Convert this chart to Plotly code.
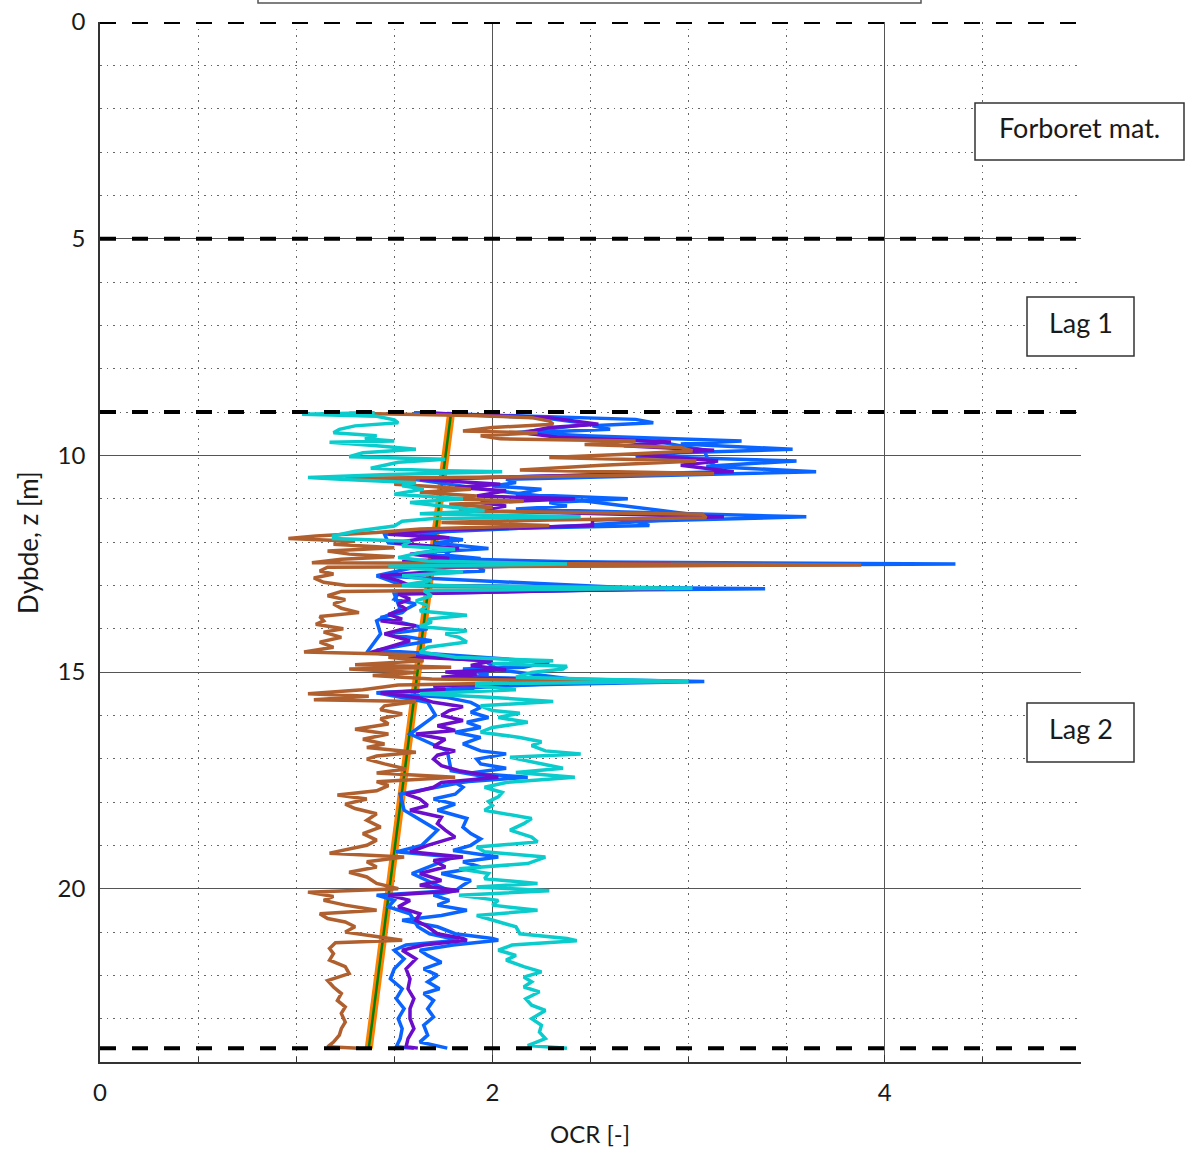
import plotly.graph_objects as go

# ---------------- data ----------------
cyan_z = [9.02, 9.05, 9.10, 9.18, 9.25, 9.32, 9.40, 9.48, 9.55, 9.62, 9.67, 9.70, 9.78, 9.86, 9.94,
          10.03, 10.09, 10.16, 10.30, 10.35, 10.38, 10.44, 10.51, 10.56, 10.63, 10.70, 10.78, 10.90,
          11.00, 11.09, 11.17, 11.28, 11.35, 11.42, 11.46, 11.52, 11.63, 11.75, 11.86, 11.92, 11.98,
          12.09, 12.17, 12.25, 12.36, 12.44, 12.51, 12.56, 12.70, 12.78, 12.89, 13.00, 13.07, 13.12,
          13.24, 13.36, 13.47, 13.59, 13.69, 13.78, 13.85, 13.95, 14.05, 14.12, 14.20, 14.31, 14.43,
          14.54, 14.66, 14.74, 14.81, 14.87, 14.93, 15.01, 15.12, 15.22, 15.27, 15.32, 15.41, 15.50,
          15.58, 15.68, 15.78, 15.89, 15.95, 16.05, 16.16, 16.28, 16.39, 16.51, 16.61, 16.70, 16.82,
          16.89, 16.97, 17.08, 17.22, 17.32, 17.43, 17.55, 17.66, 17.78, 17.88, 17.99, 18.08, 18.19,
          18.38, 18.50, 18.65, 18.81, 18.92, 19.04, 19.15, 19.27, 19.42, 19.54, 19.65, 19.77, 19.88,
          19.96, 20.05, 20.15, 20.27, 20.38, 20.50, 20.62, 20.73, 20.88, 21.04, 21.15, 21.20, 21.30,
          21.42, 21.54, 21.65, 21.80, 21.92, 22.04, 22.15, 22.27, 22.38, 22.54, 22.69, 22.81, 23.00,
          23.15, 23.31, 23.46, 23.62, 23.68]
cyan_v = [1.40, 1.03, 1.41, 1.50, 1.52, 1.30, 1.22, 1.19, 1.41, 1.35, 1.50, 1.17, 1.41, 1.61, 1.34,
          1.27, 1.76, 1.52, 1.38, 1.69, 2.05, 1.47, 1.06, 1.25, 1.61, 1.54, 1.65, 1.50,
          1.85, 1.58, 1.74, 1.96, 1.63, 2.45, 1.70, 1.54, 1.50, 1.30, 1.19, 1.19, 1.58,
          1.54, 1.81, 1.63, 1.52, 1.67, 2.38, 1.47, 1.85, 1.54, 1.69, 1.54, 3.02, 1.65,
          1.69, 1.61, 1.67, 1.63, 1.87, 1.67, 1.69, 1.63, 1.87, 1.76, 1.83, 1.87, 1.67,
          1.63, 1.81, 2.31, 2.00, 2.38, 2.36, 2.20, 2.12, 3.00, 1.92, 1.92, 2.12, 1.63,
          1.98, 2.31, 1.94, 2.00, 2.14, 2.03, 2.18, 2.00, 1.94, 2.14, 2.25, 2.20, 2.27,
          2.45, 2.09, 2.20, 2.36, 2.12, 2.42, 2.07, 1.96, 2.05, 2.03, 1.98, 2.00, 1.96,
          2.20, 2.16, 2.09, 2.20, 2.23, 1.92, 1.96, 2.27, 2.18, 1.83, 1.98, 1.96, 2.23,
          1.92, 2.29, 1.83, 2.03, 2.00, 2.23, 1.92, 2.00, 2.12, 2.14, 2.38, 2.43, 2.10,
          2.03, 2.12, 2.07, 2.16, 2.25, 2.16, 2.20, 2.16, 2.24, 2.17, 2.20, 2.27, 2.20,
          2.25, 2.24, 2.27, 2.18, 2.38]

blueB_z = [9.02, 9.09, 9.17, 9.25, 9.32, 9.40, 9.48, 9.55, 9.67, 9.74, 9.86, 9.94, 10.02, 10.13,
           10.25, 10.38, 10.48, 10.55, 10.63, 10.71, 10.78, 10.90, 11.00, 11.09, 11.17, 11.24,
           11.42, 11.52, 11.62, 11.71, 11.82, 11.90, 11.95, 12.02, 12.15, 12.25, 12.38, 12.44,
           12.51, 12.56, 12.67, 12.78, 12.89, 13.00, 13.08, 13.15, 13.20, 13.32, 13.43, 13.55,
           13.63, 13.74, 13.82, 14.00, 14.12, 14.28, 14.39, 14.50, 14.58, 14.67, 14.77, 14.89,
           14.93, 15.05, 15.12, 15.22, 15.32, 15.41, 15.48, 15.58, 15.70, 15.82, 15.93, 16.05,
           16.16, 16.28, 16.39, 16.51, 16.66, 16.82, 16.89, 17.01, 17.12, 17.22, 17.33, 17.43,
           17.55, 17.66, 17.82, 17.93, 18.05, 18.19, 18.38, 18.58, 18.73, 18.85, 19.00, 19.12,
           19.27, 19.38, 19.50, 19.65, 19.81, 19.92, 20.05, 20.15, 20.27, 20.38, 20.50, 20.62,
           20.73, 20.88, 21.04, 21.15, 21.19, 21.30, 21.42, 21.54, 21.70, 21.85, 22.00, 22.15,
           22.31, 22.42, 22.58, 22.77, 22.96, 23.15, 23.38, 23.54, 23.68]
blueB_v = [1.61, 2.18, 2.73, 2.82, 2.51, 2.60, 2.18, 2.47, 3.27, 2.96, 3.53, 2.96, 2.73, 3.55,
           3.09, 3.65, 2.73, 2.07, 2.12, 2.00, 2.25, 2.12, 2.69, 2.29, 2.38, 2.12,
           3.60, 2.73, 2.80, 1.85, 1.63, 1.76, 1.85, 1.70, 1.98, 1.63, 1.94, 1.67,
           4.36, 1.92, 1.96, 1.41, 1.48, 1.54, 3.39, 1.52, 1.52, 1.50, 1.61, 1.56,
           1.54, 1.43, 1.50, 1.67, 1.47, 1.69, 1.54, 1.41, 1.69, 1.98, 2.29, 2.16,
           1.85, 1.98, 1.89, 3.08, 1.92, 1.89, 1.41, 1.76, 1.89, 1.94, 1.89, 1.98,
           1.87, 1.94, 1.81, 1.94, 1.85, 1.94, 2.07, 1.92, 1.94, 2.07, 1.89, 2.18,
           1.81, 1.85, 1.81, 1.70, 1.81, 1.72, 1.87, 1.85, 1.89, 1.94, 1.89, 1.80,
           2.03, 1.85, 1.94, 1.74, 1.89, 1.85, 1.81, 1.70, 1.78, 1.72, 1.87, 1.74,
           1.54, 1.72, 1.81, 2.00, 2.03, 1.80, 1.63, 1.67, 1.74, 1.65, 1.72, 1.67,
           1.73, 1.65, 1.70, 1.67, 1.70, 1.65, 1.67, 1.63, 1.77]

blueA_z = [9.02, 9.13, 9.28, 9.48, 9.69, 9.88, 10.13, 10.38, 10.55, 10.82, 11.00, 11.42, 11.62,
           11.82, 12.02, 12.15, 12.38, 12.51, 12.59, 12.78, 13.08, 13.20, 13.55, 13.82, 14.12,
           14.55, 14.74, 14.95, 15.22, 15.48, 15.70, 16.00, 16.43, 16.82, 17.28, 17.43, 17.82,
           18.19, 18.65, 19.00, 19.15, 19.27, 19.65, 20.05, 20.15, 20.27, 20.42, 20.58, 20.88,
           21.04, 21.19, 21.30, 21.42, 21.62, 21.85, 22.08, 22.31, 22.54, 22.77, 23.00, 23.23,
           23.46, 23.65, 23.68]
blueA_v = [1.60, 2.25, 2.50, 2.12, 2.85, 3.08, 3.10, 3.18, 1.60, 2.02, 2.38, 3.12, 2.45,
           1.45, 1.47, 1.80, 1.74, 2.85, 1.60, 1.41, 2.80, 1.50, 1.53, 1.41, 1.43,
           1.36, 1.96, 2.03, 2.50, 1.41, 1.67, 1.71, 1.58, 1.77, 1.79, 1.98, 1.53,
           1.55, 1.72, 1.64, 1.51, 1.80, 1.59, 1.78, 1.41, 1.50, 1.47, 1.58, 1.62,
           1.68, 1.83, 1.56, 1.50, 1.55, 1.50, 1.48, 1.54, 1.51, 1.55, 1.52, 1.54,
           1.53, 1.51, 1.60]

purple_z = [9.02, 9.13, 9.28, 9.36, 9.48, 9.58, 9.69, 9.78, 9.88, 9.98, 10.13, 10.23, 10.38, 10.46,
            10.55, 10.67, 10.74, 10.82, 10.94, 11.00, 11.09, 11.17, 11.28, 11.42, 11.49, 11.62,
            11.72, 11.82, 11.90, 11.93, 12.02, 12.15, 12.28, 12.38, 12.45, 12.51, 12.59, 12.67,
            12.78, 12.89, 13.00, 13.08, 13.20, 13.32, 13.43, 13.55, 13.67, 13.78, 13.82, 13.93,
            14.12, 14.28, 14.43, 14.55, 14.66, 14.74, 14.85, 14.95, 15.00, 15.05, 15.12, 15.22,
            15.32, 15.41, 15.48, 15.60, 15.70, 15.80, 15.89, 16.00, 16.12, 16.24, 16.35, 16.43,
            16.55, 16.72, 16.82, 16.92, 17.01, 17.16, 17.28, 17.43, 17.55, 17.66, 17.82, 17.93,
            18.08, 18.19, 18.35, 18.50, 18.65, 18.81, 19.00, 19.15, 19.27, 19.35, 19.50, 19.65,
            19.81, 19.92, 20.05, 20.15, 20.27, 20.42, 20.58, 20.73, 20.88, 21.04, 21.15, 21.19,
            21.30, 21.42, 21.62, 21.85, 22.08, 22.31, 22.54, 22.77, 23.00, 23.23, 23.46, 23.65,
            23.68]
purple_v = [1.63, 2.29, 2.54, 2.29, 2.16, 2.33, 2.91, 2.67, 3.13, 2.73, 3.15, 2.96, 3.23, 2.44,
            1.63, 2.04, 1.81, 2.07, 1.92, 2.42, 1.94, 2.07, 1.92, 3.18, 2.51, 2.51,
            1.74, 1.47, 1.78, 1.63, 1.50, 1.83, 1.58, 1.78, 1.54, 2.91, 1.63, 1.74,
            1.43, 1.52, 1.58, 2.88, 1.52, 1.58, 1.52, 1.56, 1.47, 1.54, 1.43, 1.61,
            1.45, 1.58, 1.47, 1.38, 1.63, 2.00, 1.89, 2.07, 1.76, 1.92, 1.74, 2.56,
            1.70, 1.76, 1.43, 1.63, 1.70, 1.85, 1.78, 1.74, 1.85, 1.72, 1.81, 1.61,
            1.76, 1.70, 1.81, 1.72, 1.70, 1.74, 1.83, 2.03, 1.74, 1.70, 1.56, 1.63,
            1.67, 1.58, 1.74, 1.72, 1.76, 1.81, 1.67, 1.58, 1.85, 1.70, 1.76, 1.63,
            1.74, 1.63, 1.83, 1.47, 1.58, 1.52, 1.63, 1.61, 1.67, 1.72, 1.85, 1.87,
            1.65, 1.54, 1.61, 1.56, 1.58, 1.57, 1.60, 1.58, 1.58, 1.60, 1.57, 1.56,
            1.62]

brown_z = [9.03, 9.05, 9.08, 9.13, 9.21, 9.28, 9.36, 9.44, 9.48, 9.55, 9.62, 9.67, 9.75, 9.82, 9.90,
           9.98, 10.05, 10.13, 10.23, 10.34, 10.42, 10.49, 10.53, 10.59, 10.67, 10.72, 10.78, 10.85,
           10.94, 11.00, 11.06, 11.13, 11.20, 11.28, 11.36, 11.44, 11.49, 11.55, 11.62, 11.70,
           11.78, 11.86, 11.92, 11.98, 12.05, 12.13, 12.21, 12.28, 12.34, 12.40, 12.48, 12.53,
           12.58, 12.67, 12.74, 12.83, 12.93, 13.00, 13.06, 13.14, 13.24, 13.33, 13.43, 13.53,
           13.63, 13.72, 13.82, 13.90, 14.00, 14.08, 14.20, 14.31, 14.43, 14.54, 14.60, 14.66,
           14.74, 14.83, 14.89, 14.93, 15.01, 15.08, 15.16, 15.22, 15.30, 15.41, 15.50, 15.56,
           15.64, 15.68, 15.78, 15.87, 15.97, 16.08, 16.20, 16.32, 16.43, 16.55, 16.66, 16.74,
           16.85, 16.94, 17.01, 17.12, 17.24, 17.33, 17.43, 17.53, 17.62, 17.74, 17.84, 17.93,
           18.05, 18.15, 18.27, 18.42, 18.58, 18.73, 18.88, 19.00, 19.18, 19.27, 19.38, 19.50,
           19.62, 19.73, 19.88, 20.00, 20.08, 20.18, 20.27, 20.38, 20.50, 20.58, 20.69, 20.77,
           20.88, 21.00, 21.15, 21.19, 21.25, 21.38, 21.50, 21.65, 21.80, 21.96, 22.12, 22.27,
           22.42, 22.58, 22.73, 22.88, 23.08, 23.23, 23.38, 23.54, 23.65, 23.68]
brown_v = [1.27, 1.60, 1.89, 2.20, 2.29, 2.31, 2.00, 1.85, 2.23, 1.94, 2.04, 2.73, 2.47, 2.96, 3.02,
           2.65, 2.29, 3.04, 2.56, 2.14, 3.13, 2.29, 1.25, 1.61, 1.50, 1.69, 1.89, 1.63,
           1.92, 1.76, 2.16, 1.78, 2.00, 1.83, 3.07, 3.09, 2.29, 1.74, 2.29, 1.63,
           1.41, 1.10, 0.96, 1.30, 1.19, 1.50, 1.16, 1.27, 1.50, 1.23, 1.08, 3.88,
           1.16, 1.12, 1.19, 1.09, 1.14, 1.25, 2.85, 1.23, 1.16, 1.25, 1.19, 1.23,
           1.32, 1.12, 1.14, 1.10, 1.24, 1.14, 1.23, 1.12, 1.19, 1.04, 1.61, 1.47,
           1.65, 1.30, 1.79, 1.27, 1.61, 1.39, 1.69, 2.56, 1.52, 1.34, 1.06, 1.37,
           1.09, 1.61, 1.45, 1.43, 1.54, 1.43, 1.47, 1.30, 1.47, 1.34, 1.45, 1.36,
           1.61, 1.41, 1.36, 1.45, 1.56, 1.41, 1.81, 1.41, 1.47, 1.41, 1.21, 1.36,
           1.25, 1.30, 1.41, 1.36, 1.43, 1.34, 1.41, 1.36, 1.17, 1.55, 1.36, 1.41,
           1.27, 1.36, 1.41, 1.52, 1.06, 1.19, 1.14, 1.25, 1.41, 1.12, 1.16, 1.25,
           1.30, 1.25, 1.50, 1.54, 1.20, 1.17, 1.19, 1.17, 1.25, 1.27, 1.16, 1.19,
           1.23, 1.21, 1.25, 1.23, 1.25, 1.23, 1.22, 1.19, 1.16, 1.32]

trend_z = [9.0, 23.68]
trend_v = [1.79, 1.37]

layer_bounds = [0, 5, 9, 23.68]
layer_labels = ["Forboret mat.", "Lag 1", "Lag 2"]
x_title = "OCR [-]"
y_title = "Dybde, z [m]"

FONT = "Lato"
TXT = "#1a1a1a"

fig = go.Figure()

fig.add_trace(go.Scatter(x=trend_v, y=trend_z, mode="lines",
                         line=dict(color="#FF8000", width=8), showlegend=False))
fig.add_trace(go.Scatter(x=trend_v, y=trend_z, mode="lines",
                         line=dict(color="#008000", width=2.5), showlegend=False))

series = [
    (blueB_z, blueB_v, "#0A64FF"),
    (blueA_z, blueA_v, "#0A64FF"),
    (purple_z, purple_v, "#6A0DCC"),
    (brown_z, brown_v, "#B0602F"),
    (cyan_z, cyan_v, "#0ACCCC"),
]
for z, v, c in series:
    fig.add_trace(go.Scatter(x=v, y=z, mode="lines",
                             line=dict(color=c, width=3.5), showlegend=False))

shapes = []
for b in layer_bounds:
    shapes.append(dict(type="line", xref="paper", x0=0, x1=1, yref="y", y0=b, y1=b,
                       line=dict(color="black", width=4, dash="16px,16px"), layer="above"))

def px2x(px):
    return (px - 100) / 981.0

def py2y(py):
    return 1 - (py - 22) / 1040.0

boxes = [
    (975, 1184, 103, 160, layer_labels[0]),
    (1027, 1134, 297, 356, layer_labels[1]),
    (1027, 1134, 703, 762, layer_labels[2]),
]
annotations = []
for x0, x1, y0, y1, t in boxes:
    shapes.append(dict(type="rect", xref="paper", yref="paper",
                       x0=px2x(x0), x1=px2x(x1), y0=py2y(y1), y1=py2y(y0),
                       line=dict(color="#333333", width=1.5), fillcolor="white", layer="above"))
    annotations.append(dict(xref="paper", yref="paper", x=px2x((x0 + x1) / 2),
                            y=py2y((y0 + y1) / 2 - 4), text=t, showarrow=False,
                            font=dict(family=FONT, size=27, color=TXT),
                            xanchor="center", yanchor="middle"))

# legend frame clipped at the top
shapes.append(dict(type="rect", xref="paper", yref="paper",
                   x0=px2x(258), x1=px2x(921), y0=py2y(3), y1=py2y(-40),
                   line=dict(color="#555555", width=1.5), fillcolor="white", layer="above"))

# axis titles
annotations.append(dict(xref="paper", yref="paper", x=px2x(590), y=py2y(1133), text=x_title,
                        showarrow=False, font=dict(family=FONT, size=24, color=TXT),
                        xanchor="center", yanchor="middle"))
annotations.append(dict(xref="paper", yref="paper", x=px2x(28), y=py2y(543), text=y_title,
                        showarrow=False, textangle=-90, font=dict(family=FONT, size=26, color=TXT),
                        xanchor="center", yanchor="middle"))

fig.update_layout(
    width=1185, height=1152,
    margin=dict(l=100, r=104, t=22, b=90, autoexpand=False),
    plot_bgcolor="white", paper_bgcolor="white",
    font=dict(family=FONT, size=24, color=TXT),
    shapes=shapes, annotations=annotations,
    showlegend=False,
)
fig.update_xaxes(
    range=[0, 5], tick0=0, dtick=2, showgrid=True, gridcolor="#555555", gridwidth=1,
    zeroline=False, showline=True, linecolor="#333333", linewidth=1.5,
    ticks="inside", ticklen=7, tickcolor="#333333", automargin=False,
    minor=dict(dtick=0.5, showgrid=True, gridcolor="#666666", griddash="1.5px,5px",
               ticks="inside", ticklen=5, tickcolor="#333333"),
    ticklabelstandoff=8,
    tickfont=dict(size=24),
)
fig.update_yaxes(
    range=[24, 0], tick0=0, dtick=5, showgrid=True, gridcolor="#555555", gridwidth=1,
    zeroline=False, showline=True, linecolor="#333333", linewidth=1.5,
    ticks="", automargin=False,
    minor=dict(dtick=1, showgrid=True, gridcolor="#666666", griddash="1.5px,5px"),
    ticklabelstandoff=8,
    tickfont=dict(size=24),
)

fig.write_html("out.html")
